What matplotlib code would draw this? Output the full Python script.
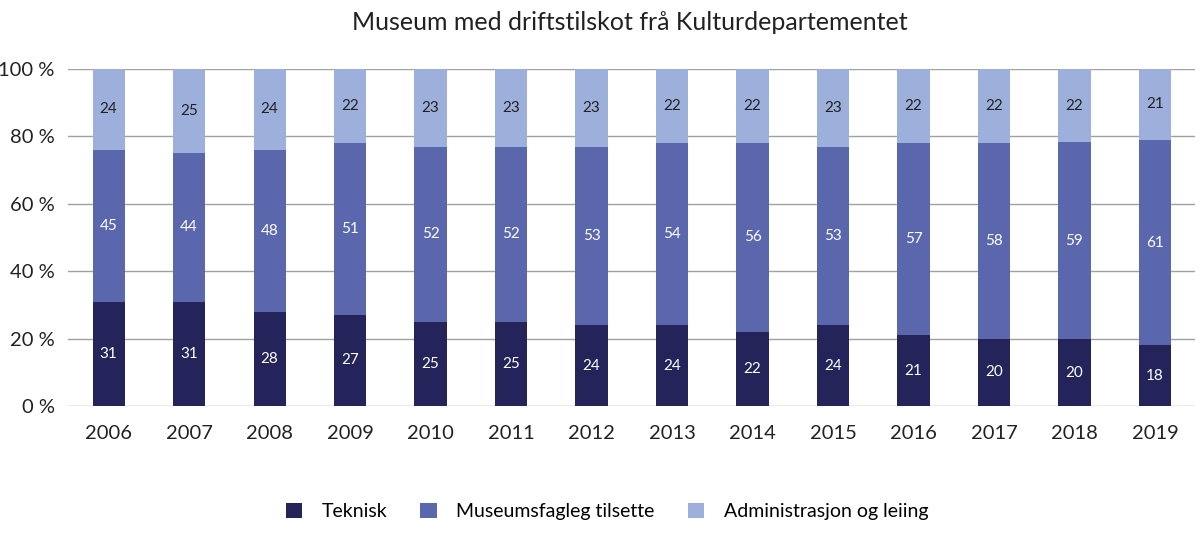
import numpy as np
import matplotlib.pyplot as plt
from matplotlib.ticker import FuncFormatter

plt.rcParams['font.family'] = ['Lato', 'DejaVu Sans']

years = ['2006', '2007', '2008', '2009', '2010', '2011', '2012',
         '2013', '2014', '2015', '2016', '2017', '2018', '2019']
teknisk = [31, 31, 28, 27, 25, 25, 24, 24, 22, 24, 21, 20, 20, 18]
museumsfagleg = [45, 44, 48, 51, 52, 52, 53, 54, 56, 53, 57, 58, 59, 61]
administrasjon = [24, 25, 24, 22, 23, 23, 23, 22, 22, 23, 22, 22, 22, 21]

series = [
    ('Teknisk', teknisk, '#24235a', 'white'),
    ('Museumsfagleg tilsette', museumsfagleg, '#5b67ad', 'white'),
    ('Administrasjon og leiing', administrasjon, '#9dafdb', '#222222'),
]

# stack to 100 %
total = np.array(teknisk) + np.array(museumsfagleg) + np.array(administrasjon)

fig = plt.figure(figsize=(12, 5.37), dpi=100)
ax = fig.add_axes([0.057, 0.244, 0.939, 0.6275])

x = np.arange(len(years))
bottom = np.zeros(len(years))
for name, vals, color, tcol in series:
    h = np.array(vals) / total * 100
    ax.bar(x, h, 0.4, bottom=bottom, color=color, label=name, zorder=3)
    for xi, b, hi, v in zip(x, bottom, h, vals):
        ax.text(xi, b + hi / 2, str(v), ha='center', va='center',
                fontsize=11, color=tcol, zorder=4)
    bottom = bottom + h

ax.set_ylim(0, 100)
ax.set_xlim(-0.5, len(years) - 0.5)
ax.set_yticks(range(0, 101, 20))
ax.yaxis.set_major_formatter(FuncFormatter(lambda v, p: '%d %%' % v))
ax.set_xticks(x)
ax.set_xticklabels(years)
ax.tick_params(axis='both', length=0, labelsize=14.5, colors='#222222')
ax.tick_params(axis='x', pad=14)
ax.tick_params(axis='y', pad=10)
ax.grid(axis='y', color='#a0a0a0', linewidth=1, zorder=0)
for s in ax.spines.values():
    s.set_visible(False)

fig.suptitle('Museum med driftstilskot frå Kulturdepartementet',
             x=0.525, y=0.98, fontsize=18, color='#222222')

ax.legend(loc='upper center', bbox_to_anchor=(0.478, -0.235), ncol=3,
          frameon=False, fontsize=14, handlelength=0.85, handleheight=0.85,
          columnspacing=1.7, handletextpad=1.0)

plt.savefig('out.png', dpi=100)
